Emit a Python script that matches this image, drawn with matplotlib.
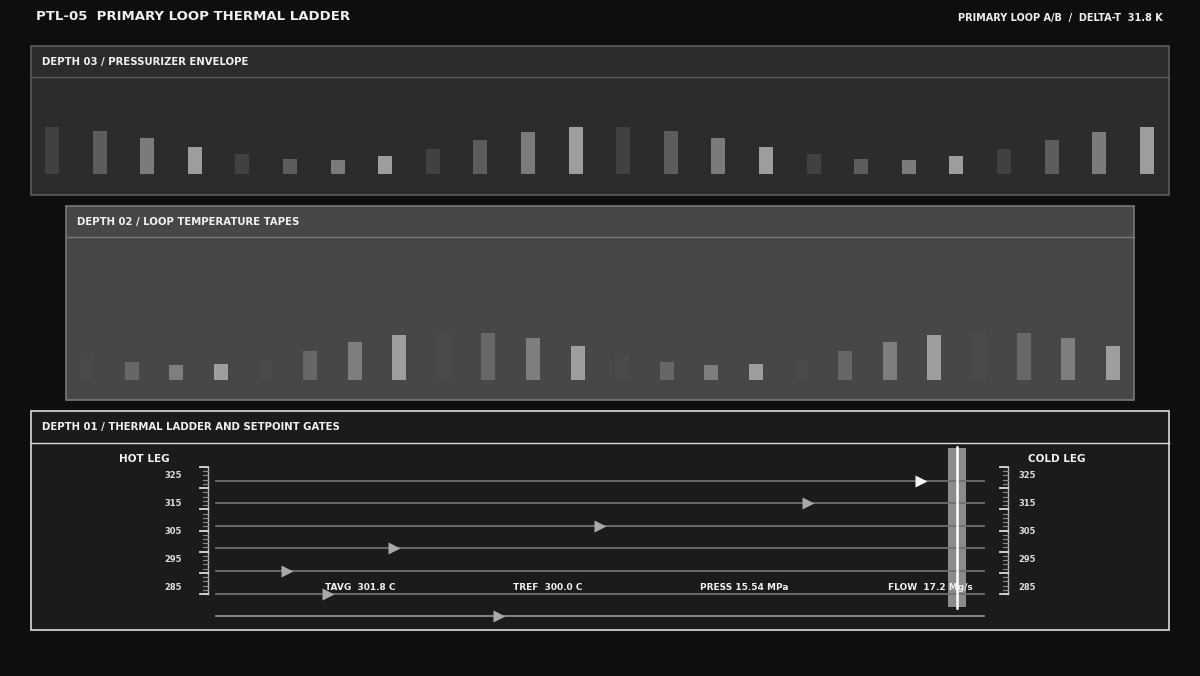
import matplotlib
matplotlib.use("Agg")
import matplotlib.pyplot as plt
from matplotlib.patches import Rectangle

# ---- data ----
depth3_heights = [47, 43, 36, 27, 20, 15, 14, 18, 25, 34, 42, 47,
                  47, 43, 36, 27, 20, 15, 14, 18, 25, 34, 42, 47]
depth3_shades = ['#414240', '#5c5d5c', '#7a7b7a', '#9c9d9c']
depth2_heights = [26, 18, 15, 16, 20, 29, 38, 45, 48, 47, 42, 34,
                  26, 18, 15, 16, 20, 29, 38, 45, 48, 47, 42, 34]
depth2_shades = ['#4a4b49', '#666766', '#7d7e7d', '#9d9e9d']
ladder_rows = [481, 503, 526, 548, 571, 594, 616]
ladder_markers = [921, 808, 600, 394, 287, 328, 499]
scale_labels = [325, 315, 305, 295, 285]
scale_label_y = [475, 503, 531, 559, 587]
readouts = ["TAVG  301.8 C", "TREF  300.0 C", "PRESS 15.54 MPa", "FLOW  17.2 Mg/s"]
readout_x = [325, 513, 700, 888]

plt.rcParams['font.family'] = ['DejaVu Sans']
fig = plt.figure(figsize=(12, 6.76), dpi=100)
fig.patch.set_facecolor('#0e0f0d')
ax = fig.add_axes([0, 0, 1, 1])
ax.set_xlim(0, 1200)
ax.set_ylim(676, 0)
ax.axis('off')

txt = dict(color='#f0f0f0', fontweight='bold')

ax.text(36, 17, "PTL-05  PRIMARY LOOP THERMAL LADDER", fontsize=9.5, va='center', **txt)
ax.text(1163, 18, "PRIMARY LOOP A/B  /  DELTA-T  31.8 K", fontsize=7, va='center', ha='right', **txt)


def panel(x0, y0, x1, y1, hdr, bg, edge, title):
    ax.add_patch(Rectangle((x0, y0), x1 - x0, y1 - y0, facecolor=bg, edgecolor=edge, lw=1.2))
    ax.plot([x0, x1], [hdr, hdr], color=edge, lw=1)
    ax.text(x0 + 11, (y0 + hdr) / 2, title, fontsize=7.3, va='center', **txt)


panel(31, 46, 1169, 195, 77, '#2c2d2b', '#5a5b5a', "DEPTH 03 / PRESSURIZER ENVELOPE")
panel(66, 206, 1134, 400, 237, '#474846', '#777877', "DEPTH 02 / LOOP TEMPERATURE TAPES")
panel(31, 411, 1169, 630, 443, '#1b1c1a', '#dcdcdc', "DEPTH 01 / THERMAL LADDER AND SETPOINT GATES")

# depth 03 bars
xs3 = [52 + i * 47.6 for i in range(len(depth3_heights))]
ax.bar(xs3, [-h for h in depth3_heights], bottom=174, width=14,
       color=[depth3_shades[i % 4] for i in range(len(xs3))])
# depth 02 bars
xs2 = [87 + i * 44.6 for i in range(len(depth2_heights))]
ax.bar(xs2, [-h for h in depth2_heights], bottom=380, width=14,
       color=[depth2_shades[i % 4] for i in range(len(xs2))])

# ladder rows
for i, (y, mx) in enumerate(zip(ladder_rows, ladder_markers)):
    ax.plot([216, 984], [y, y], color='#6e6f6e' if i < 6 else '#8a8b8a', lw=1.3)
    ax.plot(mx, y, marker='>', ms=9, color='#f4f4f4' if i == 0 else '#a8a9a8', mec='none')

# scales
for sx, lx, ha in [(200, 182, 'right'), (1000, 1018, 'left')]:
    ax.plot([sx + 8, sx + 8], [467, 594], color='#bbbbbb', lw=1)
    for k in range(31):
        y = 467 + k * (127 / 30)
        major = k % 5 == 0
        ax.plot([sx, sx + 8] if major else [sx + 3, sx + 8], [y, y],
                color='#dddddd' if major else '#888888', lw=1.3 if major else 0.8)
    for lab, ly in zip(scale_labels, scale_label_y):
        ax.text(lx, ly, str(lab), fontsize=6, ha=ha, va='center', color='#dddddd', fontweight='bold')

ax.text(119, 459, "HOT LEG", fontsize=7.5, va='center', **txt)
ax.text(1028, 459, "COLD LEG", fontsize=7.5, va='center', **txt)

# setpoint gate
ax.add_patch(Rectangle((948, 448), 18, 159, facecolor='#8a8b8a', edgecolor='none'))
ax.plot([957, 957], [447, 608], color='white', lw=1.8)

for s, x in zip(readouts, readout_x):
    ax.text(x, 587, s, fontsize=6.5, va='center', **txt)

fig.savefig("out.png", dpi=100, facecolor=fig.get_facecolor())
